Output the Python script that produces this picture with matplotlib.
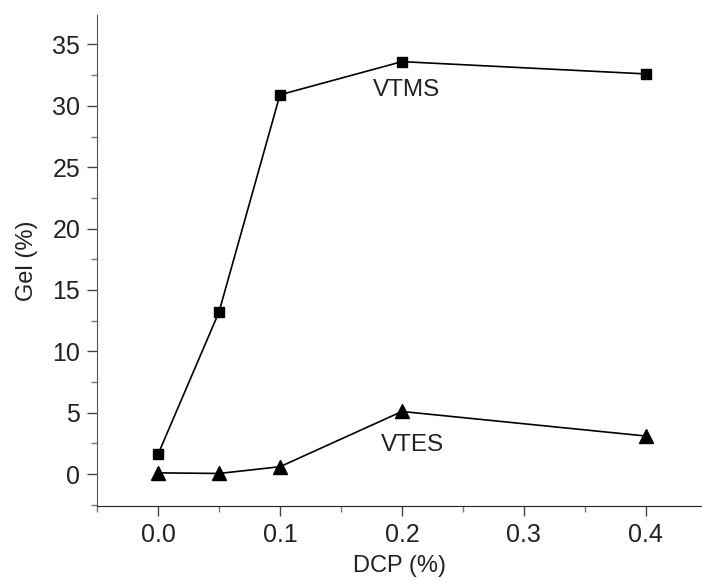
import matplotlib
matplotlib.use("Agg")
import matplotlib.pyplot as plt
from matplotlib.ticker import MultipleLocator

# DCP content (%) and gel content (%)
dcp = [0.0, 0.05, 0.1, 0.2, 0.4]
gel_vtms = [1.6, 13.2, 30.9, 33.6, 32.6]
gel_vtes = [0.1, 0.05, 0.6, 5.1, 3.1]

plt.rcParams['font.family'] = ['Liberation Sans', 'DejaVu Sans']

fig = plt.figure(figsize=(7.02, 5.83), dpi=100)
ax = fig.add_axes([97 / 702, 77 / 583, 605 / 702, 491 / 583])

ax.plot(dcp, gel_vtms, color='black', lw=1.2, marker='s', markersize=7,
        clip_on=False)
ax.plot(dcp, gel_vtes, color='black', lw=1.2, marker='^', markersize=10,
        clip_on=False)

ax.text(0.204, 31.3, 'VTMS', fontsize=17.5, ha='center', va='center', color='#222222')
ax.text(0.209, 2.4, 'VTES', fontsize=17.5, ha='center', va='center', color='#222222')

ax.set_xlim(-0.05, 0.446)
ax.set_ylim(-2.6, 37.4)
ax.xaxis.set_minor_locator(MultipleLocator(0.05))
ax.yaxis.set_minor_locator(MultipleLocator(2.5))
ax.set_xticks([0.0, 0.1, 0.2, 0.3, 0.4])
ax.set_yticks([0, 5, 10, 15, 20, 25, 30, 35])

for s in ['top', 'right']:
    ax.spines[s].set_visible(False)
ax.spines['left'].set_color('#555555')
ax.spines['bottom'].set_color('#222222')
ax.tick_params(which='major', length=7, width=1, colors='#444444',
               labelsize=18, labelcolor='#222222', pad=5)
ax.tick_params(which='minor', length=4, width=1, colors='#777777')

ax.set_xlabel('DCP (%)', fontsize=17, color='#222222', labelpad=6)
ax.set_ylabel('Gel (%)', fontsize=17, color='#222222', labelpad=10)

fig.savefig('out.png', dpi=100)
